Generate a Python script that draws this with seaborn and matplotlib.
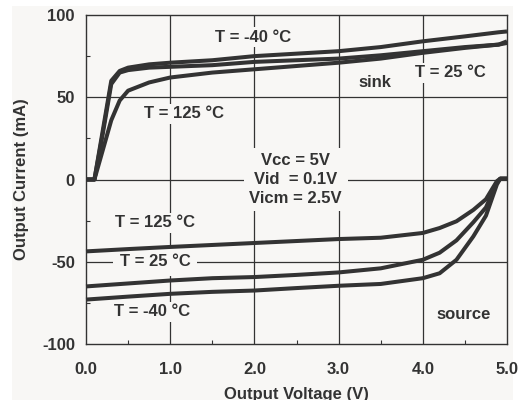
import numpy as np
import pandas as pd
import matplotlib
matplotlib.use("Agg")
import matplotlib.pyplot as plt
import seaborn as sns
from matplotlib.patches import Rectangle
from matplotlib.ticker import MultipleLocator

# sink curves (output current vs output voltage)
sinkV = [0.0, 0.1, 0.2, 0.3, 0.4, 0.5, 0.75, 1.0, 1.5, 2.0, 2.5, 3.0, 3.5, 4.0, 4.5, 4.9, 5.0]
sinkM40 = [0, 0, 30, 60, 66, 68, 70, 71, 72.5, 75, 76.5, 78, 80.5, 84, 87, 89.5, 90]
sink25 = [0, 0, 28, 58, 65, 66.5, 68, 68.5, 69.5, 71.5, 72.5, 73.5, 75.5, 78, 80.5, 82, 84]
sink125 = [0, 0, 18, 36, 48, 54, 59, 62, 65, 67, 69, 71, 73.5, 77, 80, 82, 83]

# source curves
srcV = [0.0, 0.5, 1.0, 1.5, 2.0, 2.5, 3.0, 3.5, 4.0, 4.2, 4.4, 4.6, 4.75, 4.88, 4.92, 5.0]
src125 = [-43.7, -42.3, -41, -39.8, -38.6, -37.4, -36.2, -35.4, -32.5, -29.5, -25.4, -18.5, -12, -1, 0.5, 0.5]
src25 = [-65, -63.2, -61.4, -60, -59.3, -58, -56.5, -54, -48.8, -44.5, -37, -26, -17, -2, 0.5, 0.5]
srcM40 = [-73, -71.2, -69.5, -68.3, -67.5, -66, -64.6, -63.5, -60, -57, -48.8, -34.6, -22, -3, 0.5, 0.5]

xTicks = [0, 1, 2, 3, 4, 5]
xTickLabels = ["0.0", "1.0", "2.0", "3.0", "4.0", "5.0"]
yTicks = [-100, -50, 0, 50, 100]
yTickLabels = ["-100", "-50", "0", "50", "100"]

curves = [
    ("sink -40", sinkV, sinkM40), ("sink 25", sinkV, sink25), ("sink 125", sinkV, sink125),
    ("src 125", srcV, src125), ("src 25", srcV, src25), ("src -40", srcV, srcM40),
]
df = pd.concat([pd.DataFrame({"V": v, "I": i, "curve": name}) for name, v, i in curves], ignore_index=True)

sns.set_style("white")
plt.rcParams['font.family'] = ['Liberation Sans', 'DejaVu Sans']
plt.rcParams['font.weight'] = 'bold'

ink = "#333333"
bg = "#f8f7f5"
fs = 12

fig = plt.figure(figsize=(5.22, 4.0), dpi=100, facecolor="white")
fig.patches.append(Rectangle((12 / 522, 0), 501 / 522, 394 / 400, transform=fig.transFigure,
                             facecolor=bg, edgecolor="none", zorder=-10))
ax = fig.add_axes([86 / 522, 1 - 344 / 400, 421 / 522, 329 / 400])
ax.set_zorder(1)
ax.set_facecolor(bg)

for v in [1, 2, 3, 4]:
    ax.axvline(v, color=ink, lw=0.9, zorder=1)
for h in [-50, 0, 50]:
    ax.axhline(h, color=ink, lw=0.9, zorder=1)

for name in df["curve"].unique():
    sub = df[df["curve"] == name]
    sns.lineplot(data=sub, x="V", y="I", sort=False, estimator=None, color=ink,
                 lw=2.9, ax=ax, zorder=5, clip_on=False, solid_capstyle="butt")

ax.set_xlim(0, 5)
ax.set_ylim(-100, 100)
ax.set_xticks(xTicks)
ax.set_xticklabels(xTickLabels, fontsize=fs, fontweight="bold", color=ink)
ax.set_yticks(yTicks)
ax.set_yticklabels(yTickLabels, fontsize=fs, fontweight="bold", color=ink)
ax.xaxis.set_minor_locator(MultipleLocator(0.5))
ax.yaxis.set_minor_locator(MultipleLocator(25))
ax.tick_params(axis="x", which="major", length=0, pad=13)
ax.tick_params(axis="y", which="major", length=0, pad=8)
ax.tick_params(which="minor", direction="in", length=3, width=0.8, color=ink,
               bottom=True, left=True, top=False, right=False)
ax.set_xlabel("Output Voltage (V)", fontsize=fs, fontweight="bold", color=ink, labelpad=7)
ax.set_ylabel("Output Current (mA)", fontsize=fs, fontweight="bold", color=ink, labelpad=9)
for s in ax.spines.values():
    s.set_color(ink)
    s.set_linewidth(1.0)

box = dict(boxstyle="square,pad=0.15", facecolor=bg, edgecolor="none")
tk = dict(fontsize=fs, fontweight="bold", color=ink, ha="center", va="center", zorder=3, bbox=box)
ax.text(1.98, 86.6, "T = -40 °C", **tk)
ax.text(3.43, 59, "sink", **tk)
ax.text(4.33, 65, "T = 25 °C", **tk)
ax.text(1.16, 40, "T = 125 °C", **tk)
ax.text(2.49, 0, "Vcc = 5V\nVid  = 0.1V\nVicm = 2.5V", linespacing=1.3, multialignment="center",
        fontsize=fs, fontweight="bold", color=ink, ha="center", va="center", zorder=3,
        bbox=dict(boxstyle="square,pad=0.35", facecolor=bg, edgecolor="none"))
ax.text(0.82, -26.3, "T = 125 °C", **tk)
ax.text(0.82, -49.8, "T = 25 °C", fontsize=fs, fontweight="bold", color=ink, ha="center",
        va="center", zorder=3, bbox=dict(boxstyle="square,pad=0.4", facecolor=bg, edgecolor="none"))
ax.text(0.78, -80.3, "T = -40 °C", **tk)
ax.text(4.48, -82.3, "source", **tk)

fig.savefig("out.png", dpi=100, facecolor="white")
